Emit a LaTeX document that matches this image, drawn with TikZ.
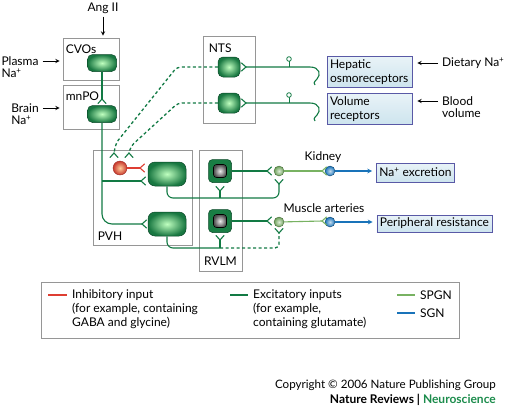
\documentclass[tikz,border=0pt]{standalone}
\usepackage{fontspec}
\setmainfont{Lato}
\usetikzlibrary{positioning}

\definecolor{exgreen}{RGB}{18,122,68}
\definecolor{nrgreen}{RGB}{28,140,76}
\definecolor{spgreen}{RGB}{120,178,98}
\definecolor{sgblue}{RGB}{25,115,185}
\definecolor{inhred}{RGB}{222,62,50}
\definecolor{recblue}{RGB}{205,228,238}
\definecolor{boxgray}{RGB}{150,150,150}

\tikzset{
  lbl/.style={inner sep=0pt, font=\fontsize{12}{14}\selectfont},
  region/.style={draw=boxgray, line width=0.8pt, fill=white},
  recbox/.style={draw=gray!70!blue, line width=0.8pt, top color=recblue!45!white, bottom color=recblue, inner sep=3pt, align=left, font=\fontsize{12}{14}\selectfont},
  neuron/.style={draw=exgreen!60!black, line width=0.5pt, rounded corners=5pt, inner color=green!25!white, outer color=nrgreen!85!black},
  rvneuron/.style={draw=exgreen!60!black, line width=0.5pt, rounded corners=4pt, fill=nrgreen!90!black, minimum size=23},
  core/.style={draw=black, line width=0.6pt, rounded corners=3pt, inner color=gray!15!white, outer color=gray!60!black, minimum size=13},
  inhcell/.style={circle, draw=inhred!70!black, line width=0.4pt, inner color=orange!40!white, outer color=inhred!90!black, minimum size=14},
  spgcell/.style={circle, draw=spgreen!60!black, line width=0.4pt, inner color=spgreen!25!white, outer color=spgreen!90!black, minimum size=10},
  sgncell/.style={circle, draw=sgblue!60!black, line width=0.4pt, inner color=sgblue!25!white, outer color=sgblue, minimum size=10},
  exc/.style={exgreen, line width=1.1pt},
  excdash/.style={exgreen, line width=1.3pt, dash pattern=on 3pt off 2.5pt},
  inh/.style={inhred, line width=1.1pt},
  spg/.style={spgreen, line width=1.1pt},
  sgn/.style={sgblue, line width=1.1pt},
  arr/.style={->, line width=0.9pt, shorten >=5pt, shorten <=4pt},
  synfork/.pic={\draw[line cap=round] (4.5,-4) -- (0,0) -- (4.5,4);}
}

\begin{document}
\begin{tikzpicture}[x=1pt, y=-1pt, >=stealth]
  \useasboundingbox (0,0) rectangle (505,408);

  % Brain regions
  \node[region, minimum width=56, minimum height=42] (cvos) at (91,59) {};
  \node[lbl, anchor=north west] at ([shift={(3pt,-7pt)}]cvos.north west) {CVOs};
  \node[region, minimum width=56, minimum height=44] (mnpo) at (91,107) {};
  \node[lbl, anchor=north west] at ([shift={(3pt,-7pt)}]mnpo.north west) {mnPO};
  \node[region, minimum width=52, minimum height=87] (nts) at (229,79.5) {};
  \node[lbl, anchor=north west] at ([shift={(6pt,-8pt)}]nts.north west) {NTS};
  \node[region, minimum width=99, minimum height=95] (pvh) at (142.5,197.5) {};
  \node[lbl, anchor=south west] at ([shift={(5pt,5pt)}]pvh.south west) {PVH};
  \node[region, minimum width=43, minimum height=121] (rvlm) at (220.5,210.5) {};
  \node[lbl, anchor=south] at ([yshift=6pt]rvlm.south) {RVLM};

  % Inputs
  \node[lbl] (angii) at (103,8) {Ang II};
  \draw[arr, shorten <=3pt, shorten >=2pt] (angii) -- (angii |- cvos.north);
  \node[lbl] (plasma) at (20,61) {Plasma};
  \node[lbl, below=3pt of plasma.south west, anchor=north west] {Na\textsuperscript{+}};
  \draw[arr, shorten >=3pt] (plasma) -- (cvos.west |- plasma);
  \node[lbl] (brain) at (25,108) {Brain};
  \node[lbl, below=3pt of brain.south west, anchor=north west] {Na\textsuperscript{+}};
  \draw[arr, shorten >=3pt] (brain) -- (mnpo.west |- brain);

  % Peripheral receptors
  \node[recbox, minimum width=85, minimum height=30, text width=79] (hep) at (369.5,72) {Hepatic\\osmoreceptors};
  \node[recbox, minimum width=85, minimum height=30, text width=79] (vol) at (369.5,109) {Volume\\receptors};
  \node[lbl, anchor=west] (diet) at (442,63) {Dietary Na\textsuperscript{+}};
  \draw[arr] (diet) -- (hep.east |- diet);
  \node[lbl, anchor=west] (blood) at (442,101) {Blood};
  \node[lbl, below=3pt of blood.south west, anchor=north west] {volume};
  \draw[arr] (blood) -- (vol.east |- blood);

  % Effector boxes
  \node[recbox, minimum width=77, minimum height=19] (naex) at (415.5,172.5) {Na\textsuperscript{+} excretion};
  \node[recbox, minimum width=115, minimum height=17] (pres) at (434.5,223.5) {Peripheral resistance};
  \node[lbl] (kidney) at (323,157) {Kidney};
  \node[lbl] (muscle) at (324,208) {Muscle arteries};

  % Synapse points
  \coordinate (f-mnpo) at (102,99);
  \coordinate (f-d1) at (114,153);
  \coordinate (f-d2) at (129,153);
  \coordinate (f-inh) at (140,168);
  \coordinate (f-pvh1) at (141,181);
  \coordinate (f-pvh2) at (142,224);
  \coordinate (f-nts1) at (246,67);
  \coordinate (f-nts2) at (246,103);
  \coordinate (f-rv1) at (220,191);
  \coordinate (f-rv2) at (220,240);
  \coordinate (f-sp1a) at (267,171);
  \coordinate (f-sp2a) at (267,221);
  \coordinate (f-sp1b) at (279,184);
  \coordinate (f-sp2b) at (279,233);
  \coordinate (f-sg1) at (322,171);
  \coordinate (f-sg2) at (322,221);
  \coordinate (d1) at (177,67);
  \coordinate (e1) at (116,143);
  \coordinate (d2) at (178,103);
  \coordinate (e2) at (131,146);
  \coordinate (j1) at (279,198);
  \coordinate (j2) at (220,248);
  \coordinate (h-hep) at (310,67);
  \coordinate (h-vol) at (310,103);
  \coordinate (lp1) at (289,59);
  \coordinate (lp2) at (289,95);

  % Cells
  \node[neuron, minimum width=29, minimum height=17] (n-cvo) at (102,63) {};
  \node[neuron, minimum width=29, minimum height=17] (n-mnpo) at (102,114) {};
  \node[neuron, minimum width=22, minimum height=20] (n-nts1) at (229,67) {};
  \node[neuron, minimum width=22, minimum height=20] (n-nts2) at (229,103) {};
  \node[neuron, minimum width=38, minimum height=24, rounded corners=7pt] (n-pvh1) at (167,174) {};
  \node[neuron, minimum width=38, minimum height=24, rounded corners=7pt] (n-pvh2) at (167,224) {};
  \node[rvneuron] (n-rv1) at (220,171) {};
  \node[core] (n-rv1c) at (n-rv1) {};
  \node[rvneuron] (n-rv2) at (220,221) {};
  \node[core] (n-rv2c) at (n-rv2) {};
  \node[inhcell] (n-inh) at (120,168) {};
  \node[spgcell] (sp1) at (279,171) {};
  \node[spgcell] (sp2) at (279,222) {};
  \node[sgncell] (sg1) at (330,171) {};
  \node[sgncell] (sg2) at (330,222) {};

  % CVOs -> mnPO -> PVH
  \draw[exc] (n-cvo) -- (f-mnpo);
  \pic[exc, rotate=-90] at (f-mnpo) {synfork};
  \draw[exc, rounded corners=10pt] (n-mnpo.south) |- (f-pvh2);
  \draw[exc] (n-mnpo.south |- f-pvh1) -- (f-pvh1);
  \pic[exc] at (f-pvh1) {synfork};
  \pic[exc] at (f-pvh2) {synfork};

  % NTS -> inhibitory interneuron
  \draw[excdash, rounded corners=4pt] (n-nts1.west) -- (d1) -- (e1) -- (f-d1);
  \draw[excdash, rounded corners=4pt] (n-nts2.west) -- (d2) -- (e2) -- (f-d2);
  \pic[exc, rotate=-90] at (f-d1) {synfork};
  \pic[exc, rotate=-90] at (f-d2) {synfork};
  \draw[inh] (n-inh) -- (f-inh);
  \pic[inh] at (f-inh) {synfork};

  % Afferents into NTS
  \draw[exc] (f-nts1) -- (h-hep) .. controls +(10,0) and +(4,-4) .. ++(7,12) .. controls +(-3,3) and +(-2,-1) .. ++(-2,6);
  \draw[exc] (f-nts2) -- (h-vol) .. controls +(10,0) and +(4,-4) .. ++(7,12) .. controls +(-3,3) and +(-2,-1) .. ++(-2,6);
  \pic[exc, rotate=180] at (f-nts1) {synfork};
  \pic[exc, rotate=180] at (f-nts2) {synfork};
  \draw[exc, line width=0.8pt] (lp1 |- f-nts1) -- ([yshift=-2.3pt]lp1);
  \draw[exc, line width=0.8pt, fill=white] (lp1) circle (2.3);
  \draw[exc, line width=0.8pt] (lp2 |- f-nts2) -- ([yshift=-2.3pt]lp2);
  \draw[exc, line width=0.8pt, fill=white] (lp2) circle (2.3);

  % PVH -> RVLM and spinal cord
  \draw[exc, rounded corners=6pt] (n-pvh1.south) |- (j1) -- (f-sp1b);
  \draw[exc] (f-rv1) -- (f-rv1 |- j1);
  \pic[exc, rotate=90] at (f-rv1) {synfork};
  \pic[exc, rotate=90] at (f-sp1b) {synfork};
  \draw[exc, rounded corners=6pt] (n-pvh2.south) |- (j2);
  \draw[exc] (f-rv2) -- (j2);
  \pic[exc, rotate=90] at (f-rv2) {synfork};
  \draw[excdash, rounded corners=4pt] (j2) -| (f-sp2b);
  \pic[exc, rotate=90] at (f-sp2b) {synfork};

  % RVLM -> SPGN
  \draw[exc] (n-rv1) -- (f-sp1a);
  \draw[exc] (n-rv2) -- (f-sp2a);
  \pic[exc] at (f-sp1a) {synfork};
  \pic[exc] at (f-sp2a) {synfork};

  % SPGN -> SGN -> targets
  \draw[spg] (sp1) -- (f-sg1);
  \draw[spg] (sp2) -- (f-sg2);
  \pic[spg] at (f-sg1) {synfork};
  \pic[spg] at (f-sg2) {synfork};
  \draw[sgn, ->, shorten >=4pt] (sg1) -- (naex.west |- sg1);
  \draw[sgn, ->, shorten >=4pt] (sg2) -- (pres.west |- sg2);

  % Legend
  \node[draw=boxgray, line width=0.8pt, minimum width=418, minimum height=56] (legend) at (250,310) {};
  \node[lbl, anchor=west] (k-inh) at (72,295) {Inhibitory input};
  \node[lbl, align=left, below=2pt of k-inh.south west, anchor=north west] {(for example, containing\\GABA and glycine)};
  \draw[inh] ([xshift=-24pt]k-inh.west) -- ([xshift=-5pt]k-inh.west);
  \node[lbl, anchor=west] (k-exc) at (253,295) {Excitatory inputs};
  \node[lbl, align=left, below=2pt of k-exc.south west, anchor=north west] {(for example,\\containing glutamate)};
  \draw[exc] ([xshift=-23pt]k-exc.west) -- ([xshift=-5pt]k-exc.west);
  \node[lbl, anchor=west] (k-spg) at (420,295) {SPGN};
  \draw[spg] ([xshift=-23pt]k-spg.west) -- ([xshift=-5pt]k-spg.west);
  \node[lbl, anchor=west] (k-sgn) at (420,313) {SGN};
  \draw[sgn] ([xshift=-23pt]k-sgn.west) -- ([xshift=-5pt]k-sgn.west);

  % Credit line
  \node[lbl, anchor=east, font=\fontsize{11.6}{14}\selectfont] (credit) at (496,385) {Copyright \textcopyright\ 2006 Nature Publishing Group};
  \node[lbl, anchor=east] (journal) at (496,400) {\bfseries Nature Reviews | \textcolor{nrgreen}{Neuroscience}};
\end{tikzpicture}
\end{document}
